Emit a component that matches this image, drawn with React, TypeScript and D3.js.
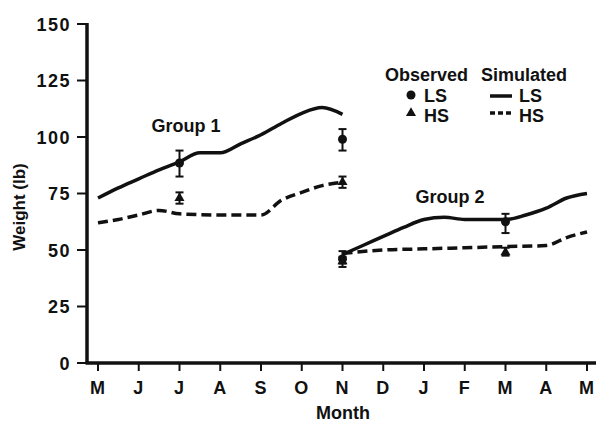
import { useMemo } from "react";
import * as d3 from "d3";

// month ticks, May through the next May
const months = ["M", "J", "J", "A", "S", "O", "N", "D", "J", "F", "M", "A", "M"];
const yTicks = [0, 25, 50, 75, 100, 125, 150];

// simulated curves: [month index, weight lb]
const g1SimLS: [number, number][] = [
  [0, 73], [0.5, 77.5], [1, 81.5], [1.5, 85.5], [2, 89], [2.5, 93], [3, 93],
  [3.5, 97], [4, 101], [4.5, 106], [5, 110.5], [5.5, 113], [6, 110],
];
const g1SimHS: [number, number][] = [
  [0, 62], [0.5, 63.5], [1, 65.5], [1.5, 67.5], [2, 66], [3, 65.5], [4, 65.5],
  [4.5, 72], [5, 75.5], [5.5, 78.5], [6, 80],
];
const g2SimLS: [number, number][] = [
  [6, 48], [6.5, 52], [7, 56], [7.5, 60], [8, 63.5], [8.5, 64.5], [9, 63.5],
  [10, 63.5], [10.5, 65.5], [11, 68.5], [11.5, 73], [12, 75],
];
const g2SimHS: [number, number][] = [
  [6, 48.5], [7, 50], [8, 50.5], [9, 51], [10, 51.5], [11, 52], [11.5, 55.5], [12, 58],
];

// observed: month index, mean, low, high
const obsLS = [
  { m: 2, v: 88.5, lo: 82.5, hi: 94 },
  { m: 6, v: 99, lo: 94, hi: 103.5 },
  { m: 6, v: 46, lo: 44, hi: 49.5 },
  { m: 10, v: 62.5, lo: 57.5, hi: 66 },
];
const obsHS = [
  { m: 2, v: 73, lo: 70.5, hi: 75.5 },
  { m: 6, v: 80, lo: 77.5, hi: 82.5 },
  { m: 6, v: 45, lo: 42.5, hi: 47 },
  { m: 10, v: 49, lo: 47.5, hi: 51 },
];

const W = 596;
const H = 422;
const ink = "#111";
const font = "'Liberation Sans', Arial, Helvetica, sans-serif";

export default function App() {
  const x = useMemo(() => d3.scaleLinear().domain([0, 12]).range([98, 587]), []);
  const y = useMemo(() => d3.scaleLinear().domain([0, 150]).range([363, 24]), []);

  const line = d3
    .line<[number, number]>()
    .x((d) => x(d[0]))
    .y((d) => y(d[1]))
    .curve(d3.curveMonotoneX);

  const tri = d3.symbol(d3.symbolTriangle, 44)()!;
  const axisX0 = 87;

  const errBar = (d: { m: number; lo: number; hi: number }, key: string) => (
    <g key={key} stroke={ink} strokeWidth={2}>
      <line x1={x(d.m)} x2={x(d.m)} y1={y(d.lo)} y2={y(d.hi)} />
      <line x1={x(d.m) - 4} x2={x(d.m) + 4} y1={y(d.lo)} y2={y(d.lo)} />
      <line x1={x(d.m) - 4} x2={x(d.m) + 4} y1={y(d.hi)} y2={y(d.hi)} />
    </g>
  );

  return (
    <svg
      width={W}
      height={H}
      style={{ position: "absolute", left: 0, top: 0, background: "#fff" }}
      fontFamily={font}
      fontWeight="bold"
      fill={ink}
    >
      {/* axes */}
      <line x1={axisX0} x2={axisX0} y1={y(150) - 1} y2={y(0)} stroke={ink} strokeWidth={3.5} />
      <line x1={axisX0 - 1.5} x2={W} y1={y(0)} y2={y(0)} stroke={ink} strokeWidth={3.5} />
      {yTicks.map((t) => (
        <g key={t}>
          <line x1={axisX0 - 10} x2={axisX0} y1={y(t)} y2={y(t)} stroke={ink} strokeWidth={2} />
          <text x={71} y={y(t) + 6.5} textAnchor="end" fontSize={18} letterSpacing={1.5}>
            {t}
          </text>
        </g>
      ))}
      {months.map((m, i) => (
        <g key={i}>
          <line x1={x(i)} x2={x(i)} y1={y(0)} y2={y(0) + 8} stroke={ink} strokeWidth={2} />
          <text x={x(i)} y={394} textAnchor="middle" fontSize={18} letterSpacing={1}>
            {m}
          </text>
        </g>
      ))}
      <text x={343} y={419} textAnchor="middle" fontSize={18}>
        Month
      </text>
      <text
        transform={`translate(25,${207}) rotate(-90)`}
        textAnchor="middle"
        fontSize={17}
      >
        Weight (lb)
      </text>

      {/* simulated */}
      {[g1SimLS, g2SimLS].map((s, i) => (
        <path key={"ls" + i} d={line(s)!} fill="none" stroke={ink} strokeWidth={3.5} />
      ))}
      {[g1SimHS, g2SimHS].map((s, i) => (
        <path
          key={"hs" + i}
          d={line(s)!}
          fill="none"
          stroke={ink}
          strokeWidth={3.5}
          strokeDasharray="10 5"
        />
      ))}

      {/* observed */}
      {obsLS.map((d, i) => errBar(d, "el" + i))}
      {obsHS.map((d, i) => errBar(d, "eh" + i))}
      {obsLS.map((d, i) => (
        <circle key={"c" + i} cx={x(d.m)} cy={y(d.v)} r={4.5} />
      ))}
      {obsHS.map((d, i) => (
        <path key={"t" + i} d={tri} transform={`translate(${x(d.m)},${y(d.v)})`} />
      ))}

      {/* group labels */}
      <text x={186} y={132} textAnchor="middle" fontSize={18}>
        Group 1
      </text>
      <text x={450} y={203} textAnchor="middle" fontSize={18}>
        Group 2
      </text>

      {/* legend */}
      <g fontSize={18}>
        <text x={385} y={81}>Observed</text>
        <text x={481} y={81}>Simulated</text>
        <circle cx={411} cy={95} r={4.5} />
        <text x={424} y={102}>LS</text>
        <path d={tri} transform="translate(411,113)" />
        <text x={424} y={122}>HS</text>
        <line x1={490} x2={512} y1={96} y2={96} stroke={ink} strokeWidth={3.5} />
        <text x={519} y={102}>LS</text>
        <line x1={490} x2={512} y1={113} y2={113} stroke={ink} strokeWidth={3.5} strokeDasharray="5 3" />
        <text x={519} y={122}>HS</text>
      </g>
    </svg>
  );
}
